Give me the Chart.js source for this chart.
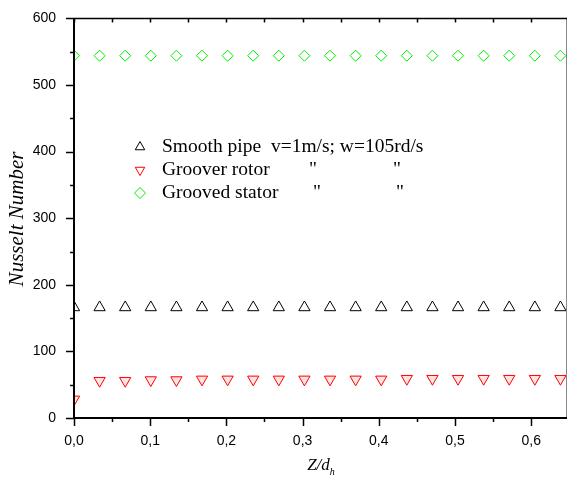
<!DOCTYPE html>
<html>
<head>
<meta charset="utf-8">
<script src="https://cdn.jsdelivr.net/npm/chart.js@4.4.1/dist/chart.umd.min.js"></script>
<style>
  html, body { margin: 0; padding: 0; background: #fff; }
  #wrap { width: 568px; height: 479px; }
</style>
</head>
<body>
<div id="wrap"><canvas id="nuChart" width="568" height="479"></canvas></div>
<script>
// Axial positions Z/dh
const zPositions = [0, 0.0336, 0.0672, 0.1008, 0.1344, 0.168, 0.2016, 0.2352, 0.2688, 0.3024,
                    0.336, 0.3696, 0.4032, 0.4368, 0.4704, 0.504, 0.5376, 0.5712, 0.6048, 0.6384];

// Nusselt numbers
const smoothPipe    = [166, 166, 166, 166, 166, 166, 166, 166, 166, 166,
                       166, 166, 166, 166, 166, 166, 166, 166, 166, 166];
const grooverRotor  = [28, 56, 56, 57, 57, 58, 58, 58, 58, 58,
                       58, 58, 58, 59, 59, 59, 59, 59, 59, 59];
const groovedStator = [544, 544, 544, 544, 544, 544, 544, 544, 544, 544,
                       544, 544, 544, 544, 544, 544, 544, 544, 544, 544];

const seriesNames = ['Smooth pipe  v=1m/s; w=105rd/s', 'Groover rotor', 'Grooved stator'];

const xMin = 0, xMax = 0.647, yMin = 0, yMax = 600;

function toPoints(ys) {
    return ys.map((y, i) => ({ x: zPositions[i], y: y }));
}

// Frame, tick marks, titles and legend drawn with the scales
const decorPlugin = {
    id: 'decor',
    afterDatasetsDraw(chart) {
        const ctx = chart.ctx;
        const a = chart.chartArea;
        const xs = chart.scales.x;
        const ys = chart.scales.y;
        ctx.save();

        // right border (grey) and top border
        ctx.strokeStyle = '#888';
        ctx.lineWidth = 1;
        ctx.beginPath();
        ctx.moveTo(a.right - 0.5, a.top);
        ctx.lineTo(a.right - 0.5, a.bottom);
        ctx.stroke();
        ctx.strokeStyle = '#000';
        ctx.lineWidth = 1.5;
        ctx.beginPath();
        ctx.moveTo(a.left, a.top);
        ctx.lineTo(a.right, a.top);
        ctx.stroke();

        // left and bottom axes
        ctx.lineWidth = 2;
        ctx.beginPath();
        ctx.moveTo(a.left, a.top);
        ctx.lineTo(a.left, a.bottom);
        ctx.lineTo(a.right, a.bottom);
        ctx.stroke();

        // x ticks (bottom outward, top inward)
        ctx.lineWidth = 1.5;
        for (let k = 0; k <= 13; k++) {
            const v = k * 0.05;
            if (v > xMax) break;
            const px = Math.round(xs.getPixelForValue(v)) + 0.5;
            const major = k % 2 === 0;
            ctx.beginPath();
            ctx.moveTo(px, a.bottom);
            ctx.lineTo(px, a.bottom + (major ? 8 : 4));
            ctx.moveTo(px, a.top);
            ctx.lineTo(px, a.top + 4);
            ctx.stroke();
        }
        // y ticks (left outward)
        for (let v = 0; v <= yMax; v += 50) {
            const py = Math.round(ys.getPixelForValue(v)) + 0.5;
            const major = v % 100 === 0;
            ctx.beginPath();
            ctx.moveTo(a.left, py);
            ctx.lineTo(a.left - (major ? 8 : 4), py);
            ctx.stroke();
        }

        // axis titles
        ctx.fillStyle = '#000';
        ctx.font = 'italic 21px "Liberation Serif"';
        ctx.textAlign = 'center';
        ctx.textBaseline = 'middle';
        ctx.save();
        ctx.translate(17, 219);
        ctx.rotate(-Math.PI / 2);
        ctx.fillText('Nusselt Number', 0, 0);
        ctx.restore();

        ctx.font = 'italic 17px "Liberation Serif"';
        const xt = 'Z/d';
        const cx = (a.left + a.right) / 2 + 1;
        ctx.textAlign = 'left';
        const w = ctx.measureText(xt).width;
        ctx.fillText(xt, cx - w / 2 - 3, 466);
        ctx.font = 'italic 10px "Liberation Serif"';
        ctx.fillText('h', cx + w / 2 - 3, 472);

        // legend
        const rows = [
            { y: 147, style: 'triangle', rot: 0, color: '#000' },
            { y: 170, style: 'triangle', rot: 180, color: '#ff0000' },
            { y: 193, style: 'rectRot', rot: 0, color: '#00ee00' }
        ];
        ctx.font = '19.5px "Liberation Serif"';
        ctx.textBaseline = 'middle';
        rows.forEach((r, i) => {
            ctx.strokeStyle = r.color;
            ctx.fillStyle = 'rgba(0,0,0,0)';
            ctx.lineWidth = 1;
            Chart.helpers.drawPoint(ctx, { pointStyle: r.style, rotation: r.rot, radius: 5.5, borderWidth: 1 }, 140, r.y);
            ctx.fillStyle = '#000';
            ctx.fillText(seriesNames[i], 162, r.y);
        });
        ctx.fillText('"', 309, 170);
        ctx.fillText('"', 393, 170);
        ctx.fillText('"', 313, 193);
        ctx.fillText('"', 396, 193);

        ctx.restore();
    }
};

new Chart(document.getElementById('nuChart'), {
    type: 'scatter',
    data: {
        datasets: [
            {
                label: seriesNames[0],
                data: toPoints(smoothPipe),
                pointStyle: 'triangle',
                pointRadius: 6.5,
                borderColor: '#000',
                backgroundColor: 'rgba(255,255,255,0)',
                borderWidth: 1,
                clip: 0
            },
            {
                label: seriesNames[1],
                data: toPoints(grooverRotor),
                pointStyle: 'triangle',
                rotation: 180,
                pointRadius: 6.5,
                borderColor: '#ff0000',
                backgroundColor: 'rgba(255,160,160,0.3)',
                borderWidth: 1,
                clip: 0
            },
            {
                label: seriesNames[2],
                data: toPoints(groovedStator),
                pointStyle: 'rectRot',
                pointRadius: 5.5,
                borderColor: '#00ee00',
                backgroundColor: 'rgba(255,255,255,0)',
                borderWidth: 1,
                clip: 0
            }
        ]
    },
    options: {
        responsive: false,
        animation: false,
        layout: { autoPadding: false, padding: { top: 8, right: 1, left: 0, bottom: 0 } },
        plugins: {
            legend: { display: false },
            tooltip: { enabled: false }
        },
        scales: {
            x: {
                type: 'linear',
                min: xMin,
                max: xMax,
                grid: { display: false },
                border: { display: false },
                afterFit: s => { s.height = 61; },
                ticks: {
                    stepSize: 0.1,
                    includeBounds: false,
                    padding: 7,
                    color: '#000',
                    font: { family: '"Liberation Sans"', size: 14 },
                    maxRotation: 0,
                    callback: v => v.toFixed(1).replace('.', ',')
                }
            },
            y: {
                type: 'linear',
                min: yMin,
                max: yMax,
                grid: { display: false },
                border: { display: false },
                afterFit: s => { s.width = 74; },
                ticks: {
                    stepSize: 100,
                    padding: 10,
                    color: '#000',
                    font: { family: '"Liberation Sans"', size: 14 }
                }
            }
        }
    },
    plugins: [decorPlugin]
});
</script>
</body>
</html>
